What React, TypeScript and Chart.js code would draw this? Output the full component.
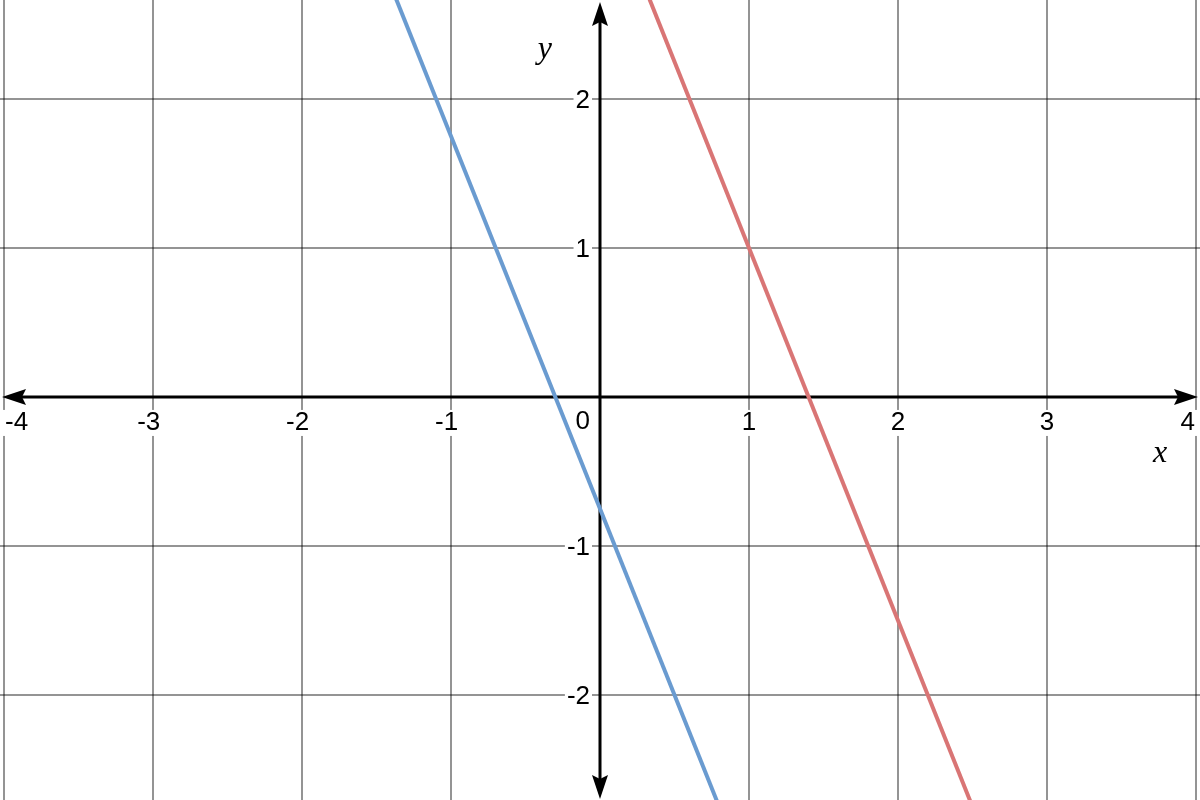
import { useEffect, useRef } from 'react';
import { Chart, registerables, Plugin } from 'chart.js';

Chart.register(...registerables);

// visible window of the plane
const xMin = -4.027;
const xMax = 4.027;
const yMin = -2.705;
const yMax = 2.664;

const xTicks = [-4, -3, -2, -1, 1, 2, 3, 4];
const yTicks = [-2, -1, 1, 2];

// two points per line, read where each line leaves the picture
const blueLine = [
  { x: -1.4, y: 2.75 },
  { x: 0.8, y: -2.75 },
];
const redLine = [
  { x: 0.3, y: 2.75 },
  { x: 2.5, y: -2.75 },
];

const labelFont = '26px "Liberation Sans", Arial, sans-serif';
const axisNameFont = 'italic 32px "Liberation Serif", "Times New Roman", serif';
const gridColor = 'rgba(0, 0, 0, 0.42)';

function arrow(ctx: CanvasRenderingContext2D, tx: number, ty: number, dx: number, dy: number) {
  const len = 24;
  const half = 8;
  const bx = tx - dx * len;
  const by = ty - dy * len;
  const px = -dy;
  const py = dx;
  ctx.beginPath();
  ctx.moveTo(tx, ty);
  ctx.lineTo(bx + px * half, by + py * half);
  ctx.lineTo(bx + dx * 4, by + dy * 4);
  ctx.lineTo(bx - px * half, by - py * half);
  ctx.closePath();
  ctx.fill();
}

const axesPlugin: Plugin = {
  id: 'axes',
  beforeDatasetsDraw(chart) {
    const { ctx, chartArea } = chart;
    const xs = chart.scales.x;
    const ys = chart.scales.y;
    const x0 = xs.getPixelForValue(0);
    const y0 = ys.getPixelForValue(0);
    const { left, right, top, bottom } = chartArea;

    ctx.save();
    ctx.strokeStyle = '#000';
    ctx.fillStyle = '#000';
    ctx.lineWidth = 3;
    ctx.beginPath();
    ctx.moveTo(left + 10, y0);
    ctx.lineTo(right - 10, y0);
    ctx.moveTo(x0, top + 10);
    ctx.lineTo(x0, bottom - 10);
    ctx.stroke();
    arrow(ctx, right - 2, y0, 1, 0);
    arrow(ctx, left + 2, y0, -1, 0);
    arrow(ctx, x0, top + 2, 0, -1);
    arrow(ctx, x0, bottom - 1, 0, 1);

    ctx.font = labelFont;
    ctx.textBaseline = 'middle';

    // x tick labels: digits centred on the tick, minus hanging left
    xTicks.forEach((v) => {
      const s = String(v);
      const digits = String(Math.abs(v));
      const full = ctx.measureText(s).width;
      const dw = ctx.measureText(digits).width;
      let lx = xs.getPixelForValue(v) + dw / 2 - full;
      lx = Math.max(left + 5, Math.min(lx, right - full - 5));
      const ly = y0 + 26;
      ctx.fillStyle = '#fff';
      ctx.fillRect(lx - 2, ly - 13, full + 4, 26);
      ctx.fillStyle = '#000';
      ctx.textAlign = 'left';
      ctx.fillText(s, lx, ly);
    });

    // y tick labels
    yTicks.forEach((v) => {
      const s = String(v);
      const w = ctx.measureText(s).width;
      const ly = ys.getPixelForValue(v) + 2;
      const rx = x0 - 10;
      ctx.fillStyle = '#fff';
      ctx.fillRect(rx - w - 2, ly - 13, w + 4, 26);
      ctx.fillStyle = '#000';
      ctx.textAlign = 'right';
      ctx.fillText(s, rx, ly);
    });

    ctx.textAlign = 'right';
    ctx.fillText('0', x0 - 10, y0 + 25);

    ctx.font = axisNameFont;
    ctx.textAlign = 'center';
    ctx.fillText('x', xs.getPixelForValue(3.76), ys.getPixelForValue(-0.38));
    ctx.fillText('y', xs.getPixelForValue(-0.37), ys.getPixelForValue(2.33));
    ctx.restore();
  },
};

export default function App() {
  const canvasRef = useRef<HTMLCanvasElement | null>(null);

  useEffect(() => {
    document.body.style.margin = '0';
    if (!canvasRef.current) return;

    const chart = new Chart(canvasRef.current, {
      type: 'scatter',
      data: {
        datasets: [
          {
            data: blueLine,
            showLine: true,
            borderColor: '#6a9bd0',
            borderWidth: 4,
            pointRadius: 0,
          },
          {
            data: redLine,
            showLine: true,
            borderColor: '#d97575',
            borderWidth: 4,
            pointRadius: 0,
          },
        ],
      },
      options: {
        animation: false,
        responsive: true,
        maintainAspectRatio: false,
        layout: { padding: 0 },
        plugins: {
          legend: { display: false },
          tooltip: { enabled: false },
        },
        scales: {
          x: {
            type: 'linear',
            min: xMin,
            max: xMax,
            afterBuildTicks: (scale) => {
              scale.ticks = xTicks.map((value) => ({ value }));
            },
            ticks: { display: false },
            border: { display: false },
            grid: { color: gridColor, lineWidth: 2, drawTicks: false },
          },
          y: {
            type: 'linear',
            min: yMin,
            max: yMax,
            afterBuildTicks: (scale) => {
              scale.ticks = yTicks.map((value) => ({ value }));
            },
            ticks: { display: false },
            border: { display: false },
            grid: { color: gridColor, lineWidth: 2, drawTicks: false },
          },
        },
      },
      plugins: [axesPlugin],
    });

    return () => chart.destroy();
  }, []);

  return (
    <div style={{ width: 1200, height: 800, position: 'relative' }}>
      <canvas ref={canvasRef} />
    </div>
  );
}
